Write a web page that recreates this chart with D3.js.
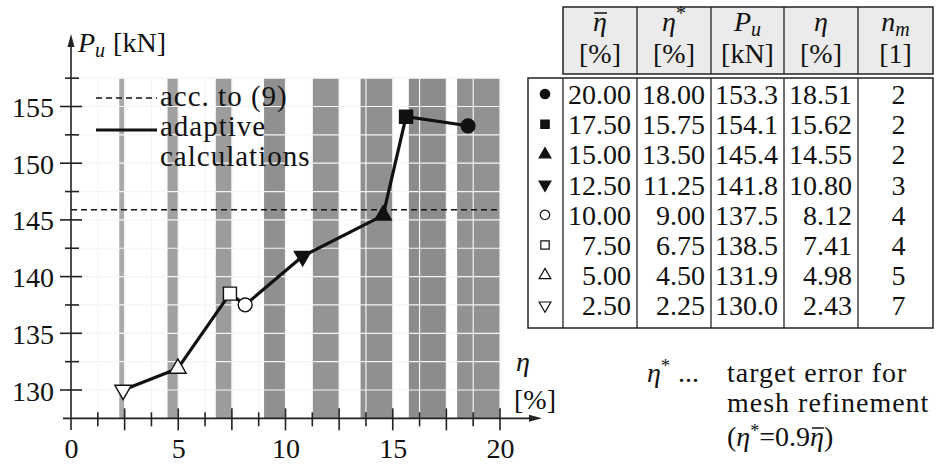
<!DOCTYPE html>
<html>
<head>
<meta charset="utf-8">
<script src="https://cdn.jsdelivr.net/npm/d3@7/dist/d3.min.js"></script>
<style>
  html, body { margin: 0; padding: 0; background: #fff; }
  svg { display: block; font-family: "Liberation Serif", "DejaVu Serif", serif; }
  svg text { font-family: "Liberation Serif", "DejaVu Serif", serif !important; fill: #111; }
</style>
</head>
<body>
<svg id="chart" width="942" height="468"></svg>
<script>
// ---------------- data ----------------
const etaBar  = [20.00, 17.50, 15.00, 12.50, 10.00, 7.50, 5.00, 2.50];
const etaStar = [18.00, 15.75, 13.50, 11.25, 9.00, 6.75, 4.50, 2.25];
const Pu      = [153.3, 154.1, 145.4, 141.8, 137.5, 138.5, 131.9, 130.0];
const eta     = [18.51, 15.62, 14.55, 10.80, 8.12, 7.41, 4.98, 2.43];
const nm      = [2, 2, 2, 3, 4, 4, 5, 7];
const symbolNames = ["circle", "square", "triangle", "triangleDown", "circle", "square", "triangle", "triangleDown"];
const symbolFilled = [true, true, true, true, false, false, false, false];
const refPu = 145.9;                 // "acc. to (9)"
const xTickLabels = [0, 5, 10, 15, 20];
const yTickLabels = [130, 135, 140, 145, 150, 155];
const legendLabels = ["acc. to (9)", "adaptive", "calculations"];

// style constants
const bandShades = ["#929292", "#8c8c8c", "#909090", "#949494", "#909090", "#9c9c9c", "#a0a0a0", "#aaaaaa"];
const SERIF = "Liberation Serif";

const svg = d3.select("#chart");
const FS = 28;

// ---------------- scales ----------------
const x = d3.scaleLinear().domain([0, 20]).range([71, 500]);
const y = d3.scaleLinear().domain([130, 155]).range([390, 106.5]);

const symType = {
  circle: d3.symbolCircle, square: d3.symbolSquare,
  triangle: d3.symbolTriangle, triangleDown: d3.symbolTriangle
};

// ---------------- bands ----------------
const gBands = svg.append("g");
gBands.selectAll("rect").data(etaStar).join("rect")
  .attr("x", (d) => x(d))
  .attr("width", (d, i) => x(etaBar[i]) - x(d))
  .attr("y", y(157.5))
  .attr("height", y(127.5) - y(157.5))
  .attr("fill", (d, i) => bandShades[i]);

// white grid over bands
const xGrid = d3.range(1.25, 20.01, 1.25);
const yGrid = d3.range(127.5, 157.51, 2.5);
const gGrid = svg.append("g").attr("stroke", "#f4f4f4").attr("stroke-width", 1.2);
gGrid.selectAll("line.v").data(xGrid).join("line").attr("class", "v")
  .attr("x1", (d) => x(d)).attr("x2", (d) => x(d))
  .attr("y1", y(157.5)).attr("y2", y(127.5));
gGrid.selectAll("line.h").data(yGrid.slice(1)).join("line").attr("class", "h")
  .attr("x1", x(0) + 2).attr("x2", x(20) + 1)
  .attr("y1", (d) => y(d)).attr("y2", (d) => y(d));

// ---------------- reference dashed line ----------------
svg.append("line")
  .attr("x1", x(0)).attr("x2", x(20))
  .attr("y1", y(refPu)).attr("y2", y(refPu))
  .attr("stroke", "#111").attr("stroke-width", 1.6)
  .attr("stroke-dasharray", "6,4");

// ---------------- axes ----------------
const gAx = svg.append("g").attr("stroke", "#222").attr("stroke-width", 1.6);
const axisY0 = y(127.5);
gAx.append("line").attr("x1", 63).attr("x2", 536).attr("y1", axisY0).attr("y2", axisY0);
gAx.append("line").attr("x1", x(0)).attr("x2", x(0)).attr("y1", 430).attr("y2", 40);
svg.append("path").attr("d", `M${x(0)},34 L${x(0) - 3.5},47 L${x(0) + 3.5},47 Z`).attr("fill", "#222");
svg.append("path").attr("d", `M542,${axisY0} L529,${axisY0 - 3.5} L529,${axisY0 + 3.5} Z`).attr("fill", "#222");

const xTicks = d3.range(1.25, 20.01, 1.25);
gAx.selectAll("line.xt").data(xTicks).join("line").attr("class", "xt")
  .attr("x1", (d) => x(d)).attr("x2", (d) => x(d))
  .attr("y1", (d, i) => (i % 2 === 1 ? axisY0 - 10 : axisY0 - 6))
  .attr("y2", (d, i) => (i % 2 === 1 ? axisY0 + 12 : axisY0 + 8));
const yTicks = d3.range(130, 157.51, 2.5);
gAx.selectAll("line.yt").data(yTicks).join("line").attr("class", "yt")
  .attr("x1", (d, i) => (i % 2 === 0 ? x(0) - 11 : x(0) - 6))
  .attr("x2", (d, i) => (i % 2 === 0 ? x(0) + 11 : x(0) + 8))
  .attr("y1", (d) => y(d)).attr("y2", (d) => y(d));

const xAxisG = svg.append("g").attr("transform", `translate(0,${axisY0})`)
  .call(d3.axisBottom(x).tickValues(xTickLabels).tickSize(0).tickPadding(22).tickFormat(d3.format("d")));
xAxisG.select(".domain").remove();
xAxisG.attr("font-family", SERIF).attr("font-size", FS);
xAxisG.selectAll("text").attr("font-size", FS).attr("font-family", SERIF).attr("fill", "#111").attr("dy", "0.62em");

const yAxisG = svg.append("g").attr("transform", `translate(54,0)`)
  .call(d3.axisLeft(y).tickValues(yTickLabels).tickSize(0).tickPadding(0).tickFormat(d3.format("d")));
yAxisG.select(".domain").remove();
yAxisG.attr("font-family", SERIF).attr("font-size", FS);
yAxisG.selectAll("text").attr("font-size", FS).attr("font-family", SERIF).attr("fill", "#111").attr("dy", "0.36em");

// axis titles
const pt = svg.append("text").attr("x", 78).attr("y", 52).attr("font-size", FS);
pt.append("tspan").attr("font-style", "italic").text("P");
pt.append("tspan").attr("font-style", "italic").attr("font-size", 20).attr("dy", 5).text("u");
pt.append("tspan").attr("dy", -5).attr("dx", 8).text("[kN]");

svg.append("text").attr("x", 516).attr("y", 371).attr("font-size", FS).attr("font-style", "italic").text("η");
svg.append("text").attr("x", 514).attr("y", 409).attr("font-size", FS).text("[%]");

// ---------------- legend ----------------
svg.append("line").attr("x1", 96).attr("x2", 157).attr("y1", 98).attr("y2", 98)
  .attr("stroke", "#111").attr("stroke-width", 1.6).attr("stroke-dasharray", "6,4");
svg.append("line").attr("x1", 96).attr("x2", 157).attr("y1", 130).attr("y2", 130)
  .attr("stroke", "#111").attr("stroke-width", 3);
svg.selectAll("text.leg").data(legendLabels).join("text").attr("class", "leg")
  .attr("x", 160).attr("y", (d, i) => 106 + i * 30)
  .attr("font-size", 29).attr("letter-spacing", 1).text((d) => d);

// ---------------- curve ----------------
const pts = eta.map((e, i) => ({ e, p: Pu[i], i })).sort((a, b) => a.e - b.e);
svg.append("path").datum(pts)
  .attr("d", d3.line().x((d) => x(d.e)).y((d) => y(d.p)))
  .attr("fill", "none").attr("stroke", "#111").attr("stroke-width", 3.2)
  .attr("stroke-linejoin", "round");

function symPath(name, size) {
  return d3.symbol().type(symType[name]).size(size)();
}
function symTransform(name, cx, cy) {
  return name === "triangleDown" ? `translate(${cx},${cy}) rotate(180)` : `translate(${cx},${cy})`;
}
const symSize = { circle: 150, square: 170, triangle: 120, triangleDown: 120 };
svg.selectAll("path.mk").data(pts).join("path").attr("class", "mk")
  .attr("d", (d) => symPath(symbolNames[d.i], symSize[symbolNames[d.i]]))
  .attr("transform", (d) => symTransform(symbolNames[d.i], x(d.e), y(d.p)))
  .attr("fill", (d) => (symbolFilled[d.i] ? "#111" : "#fff"))
  .attr("stroke", "#111").attr("stroke-width", 1.4);

// ---------------- table ----------------
const colEdges = [563, 637, 711, 784, 858, 933];
const hdrTop = 7, hdrBot = 74, bodyTop = 78, bodyBot = 328, bodyLeft = 528;
const gT = svg.append("g");
gT.append("rect").attr("x", colEdges[0]).attr("y", hdrTop)
  .attr("width", colEdges[5] - colEdges[0]).attr("height", hdrBot - hdrTop)
  .attr("fill", "#ebebeb").attr("stroke", "#222").attr("stroke-width", 1.5);
gT.append("rect").attr("x", bodyLeft).attr("y", bodyTop)
  .attr("width", colEdges[5] - bodyLeft).attr("height", bodyBot - bodyTop)
  .attr("fill", "none").attr("stroke", "#222").attr("stroke-width", 1.5);
colEdges.slice(1, 5).forEach((cx) => {
  gT.append("line").attr("x1", cx).attr("x2", cx).attr("y1", hdrTop).attr("y2", hdrBot)
    .attr("stroke", "#222").attr("stroke-width", 1.3);
});
colEdges.slice(0, 5).forEach((cx) => {
  gT.append("line").attr("x1", cx).attr("x2", cx).attr("y1", bodyTop).attr("y2", bodyBot)
    .attr("stroke", "#222").attr("stroke-width", 1.3);
});

const cc = (k) => (colEdges[k] + colEdges[k + 1]) / 2;
const h1 = 31, h2 = 63;
function hdr(k, build) {
  const t = gT.append("text").attr("x", cc(k)).attr("y", h1).attr("font-size", FS).attr("text-anchor", "middle");
  build(t);
}
hdr(0, (t) => t.append("tspan").attr("font-style", "italic").text("η"));
gT.append("line").attr("x1", cc(0) - 6).attr("x2", cc(0) + 7).attr("y1", 13).attr("y2", 13).attr("stroke", "#111").attr("stroke-width", 1.5);
hdr(1, (t) => { t.append("tspan").attr("font-style", "italic").text("η");
  t.append("tspan").attr("font-size", 20).attr("dy", -11).text("*"); });
hdr(2, (t) => { t.append("tspan").attr("font-style", "italic").text("P");
  t.append("tspan").attr("font-style", "italic").attr("font-size", 20).attr("dy", 5).text("u"); });
hdr(3, (t) => t.append("tspan").attr("font-style", "italic").text("η"));
hdr(4, (t) => { t.append("tspan").attr("font-style", "italic").text("n");
  t.append("tspan").attr("font-style", "italic").attr("font-size", 20).attr("dy", 5).text("m"); });
const units = ["[%]", "[%]", "[kN]", "[%]", "[1]"];
gT.selectAll("text.unit").data(units).join("text").attr("class", "unit")
  .attr("x", (d, k) => cc(k)).attr("y", h2).attr("font-size", FS).attr("text-anchor", "middle").text((d) => d);

const rowY = (i) => 104 + i * 30.2;
const fmt2 = d3.format(".2f"), fmt1 = d3.format(".1f");
const cols = [
  { vals: etaBar, f: fmt2 }, { vals: etaStar, f: fmt2 }, { vals: Pu, f: fmt1 }, { vals: eta, f: fmt2 }
];
cols.forEach((c, k) => {
  gT.selectAll(`text.c${k}`).data(c.vals).join("text").attr("class", `c${k}`)
    .attr("x", colEdges[k + 1] - 6).attr("y", (d, i) => rowY(i))
    .attr("font-size", FS).attr("text-anchor", "end").text((d) => c.f(d));
});
gT.selectAll("text.cn").data(nm).join("text").attr("class", "cn")
  .attr("x", cc(4) + 3).attr("y", (d, i) => rowY(i))
  .attr("font-size", FS).attr("text-anchor", "middle").text((d) => d);
gT.selectAll("path.tm").data(symbolNames).join("path").attr("class", "tm")
  .attr("d", (d) => symPath(d, d === "square" ? 70 : (d === "circle" ? 70 : 60)))
  .attr("transform", (d, i) => symTransform(d, 545, rowY(i) - 10))
  .attr("fill", (d, i) => (symbolFilled[i] ? "#111" : "#fff"))
  .attr("stroke", "#111").attr("stroke-width", 1.2);

// ---------------- note ----------------
const n1 = svg.append("text").attr("x", 647).attr("y", 382).attr("font-size", FS);
n1.append("tspan").attr("font-style", "italic").text("η");
n1.append("tspan").attr("font-size", 18).attr("dy", -10).text("*");
n1.append("tspan").attr("dy", 10).attr("x", 678).text("...");
svg.append("text").attr("x", 727).attr("y", 382).attr("font-size", FS).attr("letter-spacing", 1).text("target error for");
svg.append("text").attr("x", 727).attr("y", 412).attr("font-size", FS).attr("letter-spacing", 1).text("mesh refinement");
const n3 = svg.append("text").attr("x", 727).attr("y", 446).attr("font-size", FS);
n3.append("tspan").text("(");
n3.append("tspan").attr("font-style", "italic").text("η");
n3.append("tspan").attr("font-size", 18).attr("dy", -9).text("*");
n3.append("tspan").attr("dy", 9).text("=0.9");
n3.append("tspan").attr("font-style", "italic").text("η");
n3.append("tspan").text(")");
try {
  const idx = n3.text().length - 2;
  const ext = n3.node().getExtentOfChar(idx);
  svg.append("line").attr("x1", ext.x + 2).attr("x2", ext.x + ext.width).attr("y1", 428).attr("y2", 428)
    .attr("stroke", "#111").attr("stroke-width", 1.5);
} catch (e) {}
</script>
</body>
</html>
